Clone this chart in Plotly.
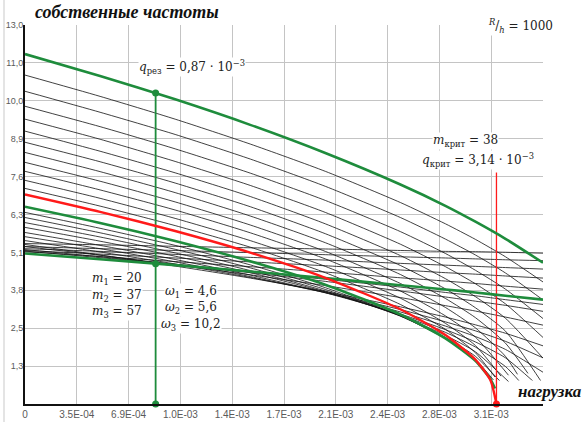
import plotly.graph_objects as go

# ---------------- data (load q in units of 1e-3, frequency as on the axis) ----------------
Q = [0, 0.5, 1.0, 1.5, 2.0, 2.5, 2.8, 3.0, 3.2, 3.45]

# thin black curves above the critical mode (values on Q grid, last value may be an end point)
upper_black = [
    [10.97, 10.26, 9.50, 8.67, 7.76, 6.72, 6.01, 5.49, 4.91, 4.07],
    [10.43, 9.73, 8.99, 8.17, 7.26, 6.22, 5.50, 4.97, 4.37, 3.47],
    [9.93, 9.25, 8.51, 7.70, 6.79, 5.75, 5.02, 4.46, 3.83, 2.85],
    [9.50, 8.83, 8.09, 7.29, 6.39, 5.33, 4.58, 4.01, 3.34, 2.22],
    [9.10, 8.43, 7.71, 6.92, 6.01, 4.95, 4.18, 3.58, 2.86, 1.53],
    [8.73, 8.08, 7.37, 6.58, 5.68, 4.62, 3.84, 3.21, 2.43, 0.66],
    [8.39, 7.75, 7.05, 6.27, 5.38, 4.32, 3.52, 2.88, 2.03, 1.02],
    [8.06, 7.43, 6.74, 5.97, 5.09, 4.02, 3.22, 2.54, 1.59, 0.99],
    [7.76, 7.14, 6.47, 5.71, 4.84, 3.77, 2.94, 2.23, 0.96],
    [7.46, 6.86, 6.19, 5.45, 4.59, 3.53, 2.69, 1.95, 0.93],
    [7.19, 6.60, 5.95, 5.23, 4.38, 3.32, 2.49, 1.71, 0.90],
]
upper_end_q = [None, None, None, None, None, None, 3.35, 3.28, 3.22, 3.17, 3.13]

lower_black = [
    [6.39, 5.86, 5.29, 4.64, 3.88, 2.94, 2.18, 1.48, 0.80],
    [6.22, 5.71, 5.16, 4.54, 3.82, 2.93, 2.22, 1.59, 0.78],
    [6.05, 5.57, 5.04, 4.45, 3.77, 2.94, 2.29, 1.74, 0.75],
    [5.89, 5.43, 4.93, 4.38, 3.74, 2.97, 2.39, 1.90, 1.25, 0.72],
    [5.72, 5.29, 4.82, 4.30, 3.71, 3.00, 2.48, 2.07, 1.54, 0.69],
    [5.58, 5.18, 4.74, 4.25, 3.71, 3.07, 2.60, 2.25, 1.82, 1.06],
    [5.45, 5.07, 4.67, 4.22, 3.72, 3.15, 2.74, 2.44, 2.09, 1.54],
    [5.32, 4.97, 4.60, 4.20, 3.75, 3.24, 2.90, 2.64, 2.36, 1.94],
    [5.25, 4.96, 4.64, 4.31, 3.95, 3.55, 3.28, 3.10, 2.90, 2.63],
    [5.15, 4.91, 4.65, 4.38, 4.09, 3.77, 3.57, 3.43, 3.29, 3.09],
    [5.10, 4.88, 4.66, 4.42, 4.16, 3.90, 3.72, 3.61, 3.48, 3.32],
    [5.08, 4.92, 4.75, 4.58, 4.40, 4.21, 4.10, 4.02, 3.93, 3.83],
    [5.12, 5.00, 4.87, 4.74, 4.61, 4.47, 4.38, 4.33, 4.27, 4.20],
    [5.18, 5.09, 4.99, 4.89, 4.80, 4.69, 4.63, 4.59, 4.55, 4.50],
    [5.25, 5.18, 5.12, 5.05, 4.98, 4.91, 4.87, 4.84, 4.81, 4.78],
    [5.35, 5.31, 5.26, 5.21, 5.17, 5.12, 5.09, 5.08, 5.06, 5.03],
]
lower_end_q = [3.12, 3.16, 3.22, 3.30, 3.40] + [None] * 11

m57_v = [11.67, 10.94, 10.16, 9.31, 8.37, 7.32, 6.61, 6.08, 5.51, 4.71]
m20_v = [5.02, 4.83, 4.63, 4.42, 4.20, 3.96, 3.82, 3.72, 3.61, 3.48]
m37_q = [0, 0.5, 1.0, 1.5, 2.0, 2.5, 2.8, 3.0, 3.1, 3.13]
m37_v = [6.58, 6.04, 5.44, 4.76, 3.98, 2.99, 2.19, 1.44, 0.83, 0.52]
m38_q = [0, 0.5, 1.0, 1.5, 2.0, 2.5, 2.8, 3.0, 3.1, 3.14]
m38_v = [6.99, 6.41, 5.77, 5.05, 4.21, 3.16, 2.30, 1.48, 0.79, 0.0]

q_res = 0.87
res_points = [10.37, 4.68, 0.0]
q_crit = 3.14
crit_top = 7.72

x_ticks = [0.345 * i for i in range(11)]
x_labels = ["0", "3.5E-04", "6.9E-04", "1.0E-03", "1.4E-03", "1.7E-03",
            "2.1E-03", "2.4E-03", "2.8E-03", "3.1E-03", ""]
y_ticks = [1.264 * i for i in range(1, 11)]
y_labels = ["1,3", "2,5", "3,8", "5,1", "6,3", "7,6", "8,9", "10,0", "11,0", "13,0"]

GREEN = "#1e8c3c"
RED = "#ff1a1a"
S = 1e-3

def curve_q(vals, end):
    if end is None:
        return Q[:len(vals)]
    return Q[:len(vals) - 1] + [end]

fig = go.Figure()

for vals, end in list(zip(upper_black, upper_end_q)) + list(zip(lower_black, lower_end_q)):
    qs = curve_q(vals, end)
    fig.add_trace(go.Scatter(x=[q * S for q in qs], y=vals, mode="lines",
                             line=dict(color="#111111", width=0.8, shape="spline", smoothing=0.6),
                             hoverinfo="skip", showlegend=False))

# vertical markers
fig.add_trace(go.Scatter(x=[q_res * S, q_res * S], y=[0, res_points[0]], mode="lines",
                         line=dict(color=GREEN, width=1.8), showlegend=False))
fig.add_trace(go.Scatter(x=[q_crit * S, q_crit * S], y=[0, crit_top], mode="lines",
                         line=dict(color=RED, width=1.3), showlegend=False))

# highlighted modes
fig.add_trace(go.Scatter(x=[q * S for q in Q], y=m57_v, mode="lines",
                         line=dict(color=GREEN, width=2.6, shape="spline", smoothing=0.6), showlegend=False))
fig.add_trace(go.Scatter(x=[q * S for q in Q], y=m20_v, mode="lines",
                         line=dict(color=GREEN, width=2.6, shape="spline", smoothing=0.6), showlegend=False))
fig.add_trace(go.Scatter(x=[q * S for q in m37_q], y=m37_v, mode="lines",
                         line=dict(color=GREEN, width=2.6, shape="spline", smoothing=0.6), showlegend=False))
fig.add_trace(go.Scatter(x=[q * S for q in m38_q], y=m38_v, mode="lines",
                         line=dict(color=RED, width=2.4, shape="spline", smoothing=0.6), showlegend=False))

fig.add_trace(go.Scatter(x=[q_res * S] * len(res_points), y=res_points, mode="markers",
                         marker=dict(color=GREEN, size=7), cliponaxis=False, showlegend=False))
fig.add_trace(go.Scatter(x=[q_crit * S], y=[0], mode="markers",
                         marker=dict(color=RED, size=7), cliponaxis=False, showlegend=False))

MATH = dict(family="DejaVu Serif, Liberation Serif, serif", size=12, color="#222222")
TITLE = dict(family="Liberation Serif, Times New Roman, serif", size=18, color="#111111")

def ann(x, y, text, font=MATH, xanchor="center", bg="white"):
    fig.add_annotation(x=x * S, y=y, text=text, showarrow=False, font=font,
                       xanchor=xanchor, yanchor="middle", bgcolor=bg, borderpad=0)

ann(1.113, 11.24, "<i>q</i><sub>рез</sub> = 0,87 · 10<sup>−3</sup>")
ann(2.933, 8.76, "<i>m</i><sub>крит</sub> = 38")
ann(3.02, 8.13, "<i>q</i><sub>крит</sub> = 3,14 · 10<sup>−3</sup>")
ann(0.613, 4.18, "<i>m</i><sub>1</sub> = 20")
ann(0.613, 3.61, "<i>m</i><sub>2</sub> = 37")
ann(0.613, 3.08, "<i>m</i><sub>3</sub> = 57")
ann(1.107, 3.75, "<i>ω</i><sub>1</sub> = 4,6")
ann(1.107, 3.21, "<i>ω</i><sub>2</sub> = 5,6")
ann(1.107, 2.64, "<i>ω</i><sub>3</sub> = 10,2")
ann(3.30, 12.62, "<sup><i>R</i></sup>/<sub><i>h</i></sub> = 1000")

# axis captions in paper coordinates (outside the data range)
fig.add_annotation(xref="paper", yref="paper", x=0.015, y=1.034, text="<b><i>собственные частоты</i></b>",
                   showarrow=False, font=TITLE, xanchor="left", yanchor="middle")
fig.add_annotation(xref="paper", yref="paper", x=1.079, y=0.032, text="<b><i>нагрузка</i></b>",
                   showarrow=False, font=dict(TITLE, size=17), xanchor="right", yanchor="middle",
                   bgcolor="white")

TICKFONT = dict(family="Liberation Sans Narrow, Arial Narrow, Liberation Sans, sans-serif",
                size=10, color="#5a5a5a")

fig.update_layout(
    width=587, height=422,
    margin=dict(l=25, r=44, t=25, b=18),
    paper_bgcolor="white", plot_bgcolor="white",
    xaxis=dict(range=[0, 3.45 * S], tickvals=[t * S for t in x_ticks], ticktext=x_labels,
               showgrid=True, gridcolor="#c4c4c4", gridwidth=1, zeroline=False,
               showline=True, linecolor="#111111", linewidth=2, ticks="", ticklen=0,
               tickfont=TICKFONT, automargin=False),
    yaxis=dict(range=[0, 12.64], tickvals=y_ticks, ticktext=y_labels,
               showgrid=True, gridcolor="#c4c4c4", gridwidth=1, zeroline=False,
               showline=True, linecolor="#111111", linewidth=2, ticks="", ticklen=0,
               ticklabelstandoff=-2,
               tickfont=dict(TICKFONT, size=9), automargin=False),
    shapes=[dict(type="line", xref="paper", yref="paper", x0=-0.0405, x1=-0.0405, layer="below",
                 y0=-0.05, y1=1.07, line=dict(color="#e4e4e4", width=2))],
)

# remove the default 8px page margin so the 587x422 figure fills the window exactly
fig.write_html("out.html", post_script="document.body.style.margin='0';",
               config={"displayModeBar": False, "staticPlot": True})
